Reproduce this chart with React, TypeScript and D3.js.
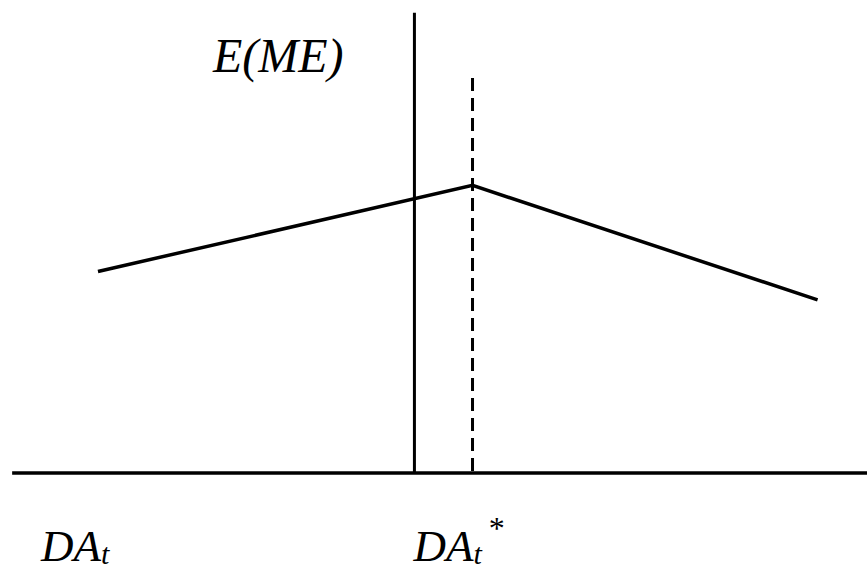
import { useEffect, useRef } from "react";
import * as d3 from "d3";

// conceptual positions on a 0-100 grid (x: DA_t, y: E(ME))
const axisStart = 1.4;
const actualDA = 47.8;
const optimalDA = 54.5;
const actualTop = 97.3;
const optimalTop = 83.5;

const curveX = [11.3, 54.5, 94.3];
const curveY = [42.6, 60.8, 36.6];

const labels = ["E(ME)", "DA", "t", "*"];

const W = 867;
const H = 567;

const App = () => {
    const svgRef = useRef<SVGSVGElement>(null);

    useEffect(() => {
        if (!svgRef.current) return;
        const svg = d3.select(svgRef.current);
        svg.selectAll("*").remove();

        const xScale = d3.scaleLinear().domain([0, 100]).range([0, W]);
        const yScale = d3.scaleLinear().domain([0, 100]).range([473, 0]);

        const stroke = "#000";

        // horizontal axis
        svg.append("line")
            .attr("x1", xScale(axisStart))
            .attr("x2", xScale(100))
            .attr("y1", yScale(0))
            .attr("y2", yScale(0))
            .attr("stroke", stroke)
            .attr("stroke-width", 3.5);

        // solid vertical line
        svg.append("line")
            .attr("x1", xScale(actualDA))
            .attr("x2", xScale(actualDA))
            .attr("y1", yScale(actualTop))
            .attr("y2", yScale(0))
            .attr("stroke", stroke)
            .attr("stroke-width", 3);

        // dashed line at the optimum
        svg.append("line")
            .attr("x1", xScale(optimalDA))
            .attr("x2", xScale(optimalDA))
            .attr("y1", yScale(optimalTop))
            .attr("y2", yScale(0))
            .attr("stroke", stroke)
            .attr("stroke-width", 3)
            .attr("stroke-dasharray", "13,7");

        const pts = curveX.map((x, i) => [x, curveY[i]] as [number, number]);
        const line = d3.line<[number, number]>()
            .x(d => xScale(d[0]))
            .y(d => yScale(d[1]));

        svg.append("path")
            .attr("d", line(pts))
            .attr("fill", "none")
            .attr("stroke", stroke)
            .attr("stroke-width", 3.5)
            .attr("stroke-linejoin", "miter");

        const font = "'Liberation Serif', 'Times New Roman', serif";

        svg.append("text")
            .attr("x", 213)
            .attr("y", 72)
            .style("font-family", font)
            .style("font-style", "italic")
            .style("font-size", "48px")
            .text(labels[0]);

        const addDA = (x: number, star: boolean) => {
            const t = svg.append("text")
                .attr("x", x)
                .attr("y", 561)
                .style("font-family", font)
                .style("font-style", "italic")
                .style("font-size", "45px");
            t.append("tspan").text(labels[1]);
            t.append("tspan")
                .attr("dy", 3)
                .style("font-size", "30px")
                .text(labels[2]);
            if (star) {
                t.append("tspan")
                    .attr("dx", 7)
                    .attr("dy", -25)
                    .style("font-style", "normal")
                    .style("font-size", "32px")
                    .text(labels[3]);
            }
        };

        addDA(41, false);
        addDA(xScale(actualDA) - 1, true);
    }, []);

    return (
        <svg
            ref={svgRef}
            width={W}
            height={H}
            style={{ position: "absolute", left: 0, top: 0, background: "#fff" }}
        />
    );
};

export default App;
